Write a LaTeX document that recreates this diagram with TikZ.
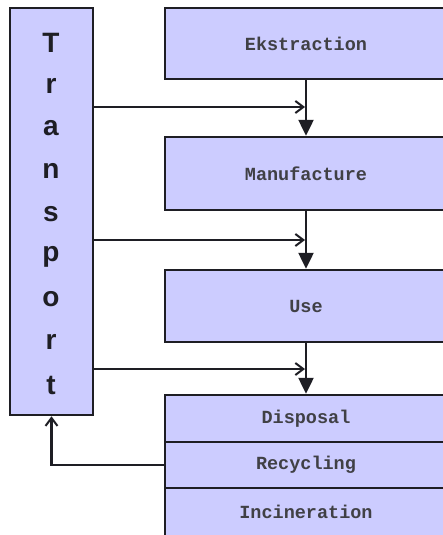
\documentclass[tikz,border=0pt]{standalone}
\usepackage{fontspec}
\setmainfont{Liberation Serif}
\newfontfamily\boxfont{Liberation Mono}
\newfontfamily\trfont{Liberation Sans}
\usetikzlibrary{arrows.meta}
\definecolor{lav}{RGB}{204,204,255}
\definecolor{ink}{RGB}{30,30,36}
\tikzset{
  box/.style={draw=ink, fill=lav, line width=2.5pt, inner sep=0pt, minimum width=282pt,
    font=\boxfont\bfseries\fontsize{18.5}{20}\selectfont, text=ink!85},
  trbox/.style={draw=ink, fill=lav, line width=2.5pt, inner sep=0pt, minimum width=83pt, minimum height=407pt},
  letter/.style={inner sep=0pt, font=\trfont\bfseries\fontsize{28}{30}\selectfont, text=ink},
  varrow/.style={draw=ink, line width=2.5pt, -{Triangle[width=15pt,length=16pt]}},
  harrow/.style={draw=ink, line width=2.2pt, -{Straight Barb[width=12pt,length=8pt,line width=2pt]}},
}
\begin{document}
\begin{tikzpicture}[x=1pt,y=-1pt]
\useasboundingbox (0,0) rectangle (443,535);
\clip (0,0) rectangle (443,535);
\fill[white] (0,0) rectangle (443,535);
% transport
\node[trbox] (tr) at (51.5,211.5) {};
\foreach \c [count=\i] in {T,r,a,n,s,p,o,r,t}
  \node[letter] (L\i) at (51,{43+42.75*(\i-1)}) {\c};
% main chain
\node[box, minimum height=71pt] (ek) at (306,43.5) {Ekstraction};
\node[box, minimum height=73pt] (man) at (306,173.5) {Manufacture};
\node[box, minimum height=72pt] (use) at (306,306) {Use};
\node[box, minimum height=47pt] (disp) at (306,418.5) {Disposal};
\node[box, minimum height=46pt] (recy) at (306,465) {Recycling};
\node[box, minimum height=48pt] (inc) at (306,512) {Incineration};
% vertical arrows
\draw[varrow] (ek.south) -- (man.north);
\draw[varrow] (man.south) -- (use.north);
\draw[varrow] (use.south) -- (disp.north);
% horizontal arrows from transport
\coordinate (h1) at (305,107);
\coordinate (h2) at (305,240);
\coordinate (h3) at (305,369);
\draw[harrow] (h1 -| tr.east) -- (h1);
\draw[harrow] (h2 -| tr.east) -- (h2);
\draw[harrow] (h3 -| tr.east) -- (h3);
% return arrow
\draw[harrow] (recy.west) -| (tr.south);
\end{tikzpicture}
\end{document}
